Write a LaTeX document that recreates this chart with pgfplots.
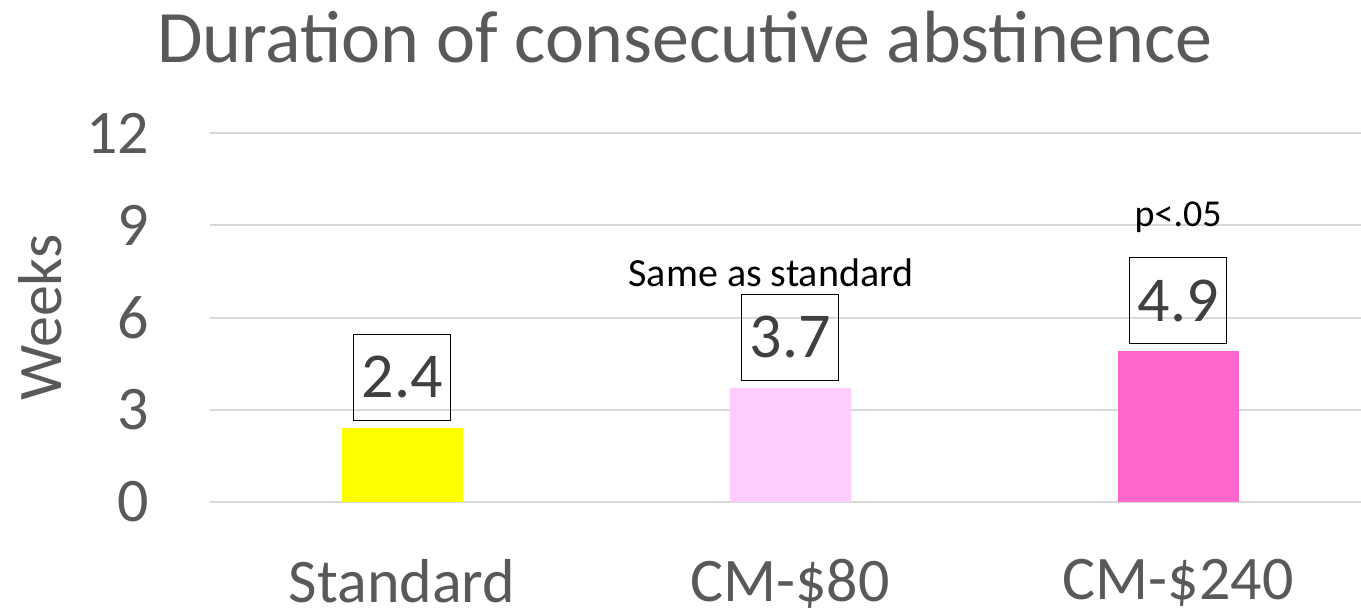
\documentclass[border=0pt]{standalone}
\usepackage{pgfplots}
\pgfplotsset{compat=1.18}
\usepackage{fontspec}
\setmainfont{Carlito}
\definecolor{txtgray}{RGB}{89,89,89}
\definecolor{lblgray}{RGB}{64,64,64}
\definecolor{gridgray}{RGB}{217,217,217}
\definecolor{barYellow}{RGB}{255,255,0}
\definecolor{barLight}{RGB}{255,204,255}
\definecolor{barHot}{RGB}{255,102,204}
\begin{document}
\begin{tikzpicture}
\useasboundingbox (-105pt,-55pt) rectangle (575.5pt,251pt);
\begin{axis}[
  at={(0pt,0pt)}, anchor=south west,
  scale only axis,
  width=575.5pt, height=184.5pt,
  xmin=-0.495, xmax=2.471,
  ymin=0, ymax=12,
  ytick={0,3,6,9,12},
  xtick={0,1,2},
  xticklabels={Standard,CM-\$80,CM-\$240},
  ymajorgrids,
  grid style={draw=gridgray, line width=1pt},
  axis line style={draw=none},
  major tick length=0pt,
  clip=false,
  /pgf/number format/assume math mode=true,
  ticklabel style={font=\fontsize{31}{36}\selectfont, text=txtgray},
  yticklabel style={xshift=-27pt},
  xticklabel style={inner sep=0pt, yshift=-28.5pt},
  ylabel={Weeks},
  every axis y label/.style={at={(axis description cs:-0.1477,0.5)}, rotate=90, anchor=center},
  ylabel style={font=\fontsize{31}{36}\selectfont, text=txtgray},
  ybar, bar width=60.5pt, bar shift=0pt,
  nodes near coords,
  every node near coord/.append style={draw=black, line width=0.75pt, anchor=south,
    yshift=3.5pt, inner sep=0pt, minimum width=48.5pt, minimum height=43pt,
    font=\fontsize{32}{36}\selectfont, text=lblgray},
]
\addplot[draw=none, fill=barYellow] coordinates {(0,2.4)};
\addplot[draw=none, fill=barLight] coordinates {(1,3.7)};
\addplot[draw=none, fill=barHot] coordinates {(2,4.9)};
\node[font=\fontsize{20}{24}\selectfont, text=black] at (axis cs:0.951,7.45) {Same as standard};
\node[font=\fontsize{19}{22}\selectfont, text=black] at (axis cs:2.0,9.27) {p<.05};
\end{axis}
\node[font=\fontsize{37}{44}\selectfont, text=txtgray] at (237.5pt,232.5pt) {Duration of consecutive abstinence};
\end{tikzpicture}
\end{document}
